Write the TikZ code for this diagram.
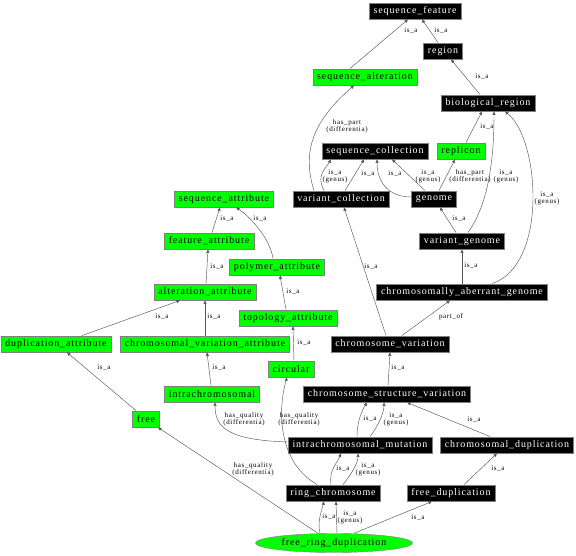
\documentclass[tikz,border=0pt]{standalone}
\usepackage{fontspec}
\setmainfont{Liberation Serif}
\newfontfamily\gvfont[LetterSpace=9]{Liberation Serif}
\usetikzlibrary{arrows.meta,shapes.geometric}
\definecolor{gvgreen}{RGB}{0,255,0}
\definecolor{gvedge}{RGB}{85,85,85}
\begin{document}
\begin{tikzpicture}[x=1pt,y=-1pt,
    term/.style={draw=gray,fill=black,text=white,font=\gvfont\fontsize{10}{12}\selectfont,
      inner xsep=4.5pt,inner ysep=0pt,minimum height=16.5pt},
    attr/.style={term,fill=gvgreen,text=black},
    root/.style={term,ellipse,fill=gvgreen,text=black,minimum width=157pt,minimum height=19pt,inner sep=0pt},
    rel/.style={draw=gvedge,line width=0.45pt,-{Triangle[length=3.5pt,width=3pt]}},
    lbl/.style={font=\gvfont\fontsize{7}{7}\selectfont,align=center,inner sep=0pt,text=black}]
  \useasboundingbox (0,0) rectangle (576,556);
  % terms
  \node[term] (sf) at (415,11) {sequence\_feature};
  \node[term] (rg) at (443,51) {region};
  \node[attr] (sa) at (365,77) {sequence\_alteration};
  \node[term] (br) at (488,103) {biological\_region};
  \node[attr] (rp) at (461,151) {replicon};
  \node[term] (sc) at (375,151) {sequence\_collection};
  \node[term] (vc) at (341,199) {variant\_collection};
  \node[term] (gn) at (434,199) {genome};
  \node[attr] (sqa) at (224,199) {sequence\_attribute};
  \node[attr] (fa) at (209,241) {feature\_attribute};
  \node[term] (vg) at (462,241) {variant\_genome};
  \node[attr] (pa) at (277,267) {polymer\_attribute};
  \node[attr] (aa) at (205,292) {alteration\_attribute};
  \node[term] (cag) at (462,292) {chromosomally\_aberrant\_genome};
  \node[attr] (ta) at (288,318) {topology\_attribute};
  \node[attr] (da) at (56,344) {duplication\_attribute};
  \node[attr] (cva) at (205,344) {chromosomal\_variation\_attribute};
  \node[term] (cv) at (390,344) {chromosome\_variation};
  \node[attr] (ci) at (291,369) {circular};
  \node[attr] (ic) at (212,394) {intrachromosomal};
  \node[term] (csv) at (387,394) {chromosome\_structure\_variation};
  \node[attr] (fr) at (146,419) {free};
  \node[term] (im) at (360,445) {intrachromosomal\_mutation};
  \node[term] (cd) at (507,445) {chromosomal\_duplication};
  \node[term] (rc) at (333,493) {ring\_chromosome};
  \node[term] (fd) at (451,493) {free\_duplication};
  \node[root] (frd) at (334,543) {free\_ring\_duplication};
  % upper part
  \draw[rel] ([xshift=-15pt]sa.north) -- ([xshift=-7pt]sf.south) node[lbl] at (411,31) {is\_a};
  \draw[rel] ([xshift=-5pt]rg.north) -- ([xshift=7pt]sf.south) node[lbl] at (441,31) {is\_a};
  \draw[rel] ([xshift=-8pt]br.north) -- ([xshift=8pt]rg.south) node[lbl] at (482,77) {is\_a};
  \draw[rel] ([xshift=5pt]rp.north) -- ([xshift=-6pt]br.south) node[lbl] at (487,127) {is\_a};
  \draw[rel] ([xshift=6pt]vg.north) .. controls +(20,-28) and +(0,50) .. ([xshift=6pt]br.south) node[lbl] at (506,176) {is\_a\\(genus)};
  \draw[rel] ([xshift=30pt]cag.north) .. controls +(56,-18) and +(35,28) .. ([xshift=17pt]br.south) node[lbl] at (547,198) {is\_a\\(genus)};
  \draw[rel] ([xshift=-9pt]gn.north) -- ([xshift=17pt]sc.south) node[lbl] at (428,176) {is\_a\\(genus)};
  \draw[rel] ([yshift=2pt]gn.west) .. controls +(-25,0) and +(0,20) .. ([xshift=2pt]sc.south) node[lbl] at (395,174) {is\_a};
  \draw[rel] ([xshift=4pt]vc.north) -- ([xshift=-11pt]sc.south) node[lbl] at (368,174) {is\_a};
  \draw[rel] ([xshift=-17pt]vc.north) .. controls +(-8,-15) and +(-6,10) .. ([xshift=-44pt]sc.south) node[lbl] at (335,176) {is\_a\\(genus)};
  \draw[rel] ([xshift=5pt]gn.north) -- ([xshift=-6pt]rp.south) node[lbl] at (470,176) {has\_part\\(differentia)};
  \draw[rel] ([xshift=-27pt]vc.north) .. controls +(-13,-41) and +(-39,34) .. ([xshift=-11pt]sa.south) node[lbl] at (347,126) {has\_part\\(differentia)};
  \draw[rel] ([xshift=-6pt]vg.north) -- ([xshift=6pt]gn.south) node[lbl] at (459,219) {is\_a};
  \draw[rel] (cag.north) -- (vg.south) node[lbl] at (471,266) {is\_a};
  \draw[rel] ([xshift=12pt]cv.north) -- ([xshift=-12pt]cag.south) node[lbl] at (451,317) {part\_of};
  \draw[rel] ([xshift=-4pt]cv.north) -- ([xshift=3pt]vc.south) node[lbl] at (371,267) {is\_a};
  \draw[rel] ([xshift=1pt]csv.north) -- (cv.south) node[lbl] at (398,368) {is\_a};
  % attributes
  \draw[rel] ([xshift=3pt]fa.north) -- ([xshift=-4pt]sqa.south) node[lbl] at (227,219) {is\_a};
  \draw[rel] ([xshift=-4pt]pa.north) .. controls +(-3,-20) and +(15,10) .. ([xshift=12pt]sqa.south) node[lbl] at (260,219) {is\_a};
  \draw[rel] ([xshift=1pt]aa.north) -- ([xshift=-1pt]fa.south) node[lbl] at (217,267) {is\_a};
  \draw[rel] ([xshift=-2pt]ta.north) -- ([xshift=3pt]pa.south) node[lbl] at (293,292) {is\_a};
  \draw[rel] ([xshift=26pt]da.north) -- ([xshift=-25pt]aa.south) node[lbl] at (162,317) {is\_a};
  \draw[rel] (cva.north) -- (aa.south) node[lbl] at (214,317) {is\_a};
  \draw[rel] ([xshift=3pt]ci.north) -- ([xshift=5pt]ta.south) node[lbl] at (304,343) {is\_a};
  \draw[rel] ([xshift=-1pt]ic.north) -- ([xshift=2pt]cva.south) node[lbl] at (219,368) {is\_a};
  \draw[rel] ([xshift=-10pt]fr.north) -- ([xshift=11pt]da.south) node[lbl] at (104,368) {is\_a};
  % lower part
  \draw[rel] ([xshift=-3pt]im.north) .. controls +(0,-15) and +(-5,8) .. ([xshift=-20pt]csv.south) node[lbl] at (370,419) {is\_a};
  \draw[rel] ([xshift=10pt]im.north) .. controls +(8,-10) and +(0,10) .. ([xshift=-3pt]csv.south) node[lbl] at (396,419) {is\_a\\(genus)};
  \draw[rel] ([xshift=-17pt]cd.north) -- ([xshift=20pt]csv.south) node[lbl] at (474,420) {is\_a};
  \draw[rel] ([yshift=3pt]im.west) .. controls +(-60,-2) and +(0,25) .. ([xshift=3pt]ic.south) node[lbl] at (244,419) {has\_quality\\(differentia)};
  \draw[rel] ([xshift=-16pt]rc.north) .. controls +(-38,-22) and +(-10,35) .. ([xshift=-4pt]ci.south) node[lbl] at (299,419) {has\_quality\\(differentia)};
  \draw[rel] ([xshift=-2pt]rc.north) .. controls +(-2,-15) and +(-4,10) .. ([xshift=-19pt]im.south) node[lbl] at (343,469) {is\_a};
  \draw[rel] ([xshift=10pt]rc.north) .. controls +(8,-10) and +(0,10) .. ([xshift=-2pt]im.south) node[lbl] at (368,469) {is\_a\\(genus)};
  \draw[rel] ([xshift=13pt]fd.north) -- ([xshift=-10pt]cd.south) node[lbl] at (498,469) {is\_a};
  \draw[rel] ([xshift=-14pt]frd.north) .. controls +(-3,-12) and +(-2,8) .. ([xshift=-9pt]rc.south) node[lbl] at (329,517) {is\_a};
  \draw[rel] ([xshift=3pt]frd.north) -- ([xshift=3pt]rc.south) node[lbl] at (350,517) {is\_a\\(genus)};
  \draw[rel] ([xshift=20pt]frd.north) -- ([xshift=-19pt]fd.south) node[lbl] at (418,518) {is\_a};
  \draw[rel] ([xshift=-16pt]frd.north) -- ([xshift=12pt]fr.south) node[lbl] at (253,469) {has\_quality\\(differentia)};
\end{tikzpicture}
\end{document}
